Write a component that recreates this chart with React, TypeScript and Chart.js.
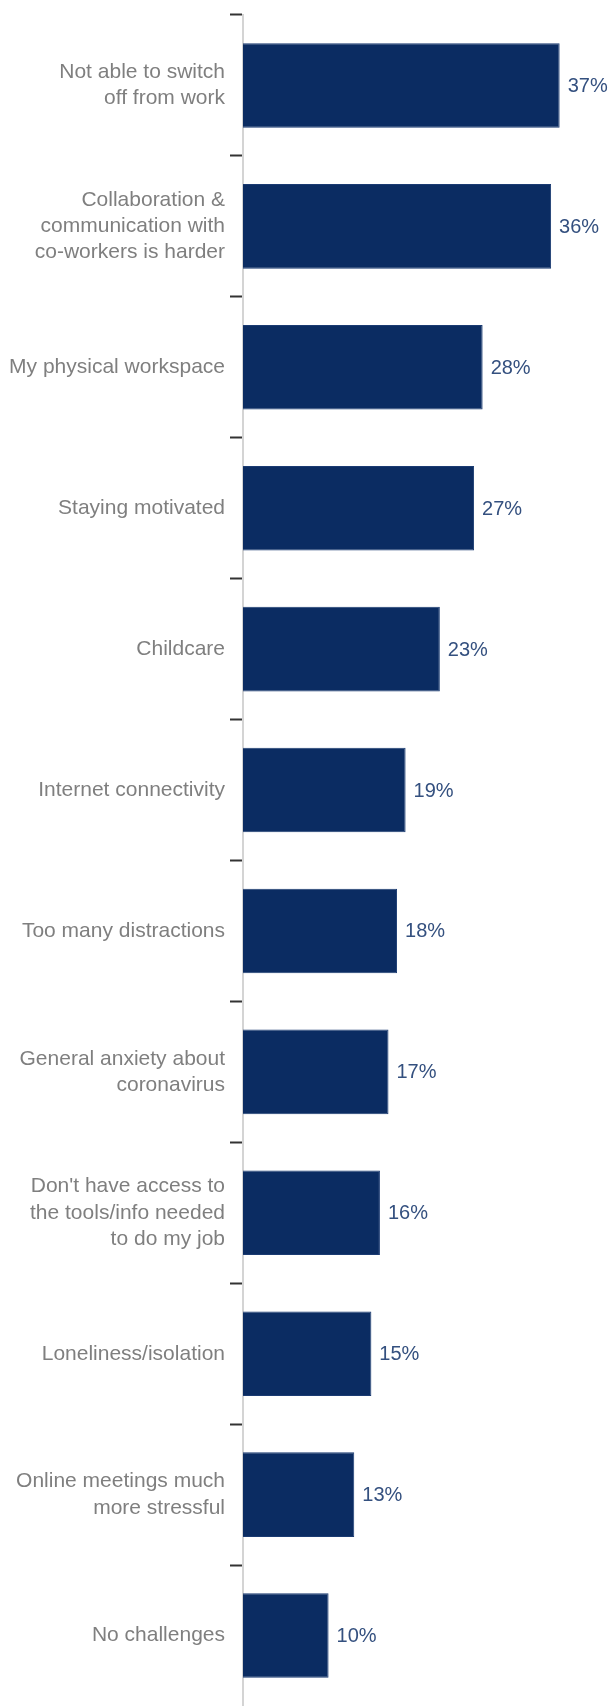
import React, { useEffect, useRef } from "react";
import { Chart, registerables } from "chart.js";

Chart.register(...registerables);

const categories: (string | string[])[] = [
  ["Not able to switch", "off from work"],
  ["Collaboration &", "communication with", "co-workers is harder"],
  "My physical workspace",
  "Staying motivated",
  "Childcare",
  "Internet connectivity",
  "Too many distractions",
  ["General anxiety about", "coronavirus"],
  ["Don't have access to", "the tools/info needed", "to do my job"],
  "Loneliness/isolation",
  ["Online meetings much", "more stressful"],
  "No challenges",
];

const values: number[] = [37, 36, 28, 27, 23, 19, 18, 17, 16, 15, 13, 10];

const valueLabels: string[] = values.map((v) => `${v}%`);

const BAR_COLOR = "#0b2c62";
const LABEL_COLOR = "#7f7f7f";
const VALUE_COLOR = "#34507f";
const FONT = "'Liberation Sans', Arial, sans-serif";

const valueLabelPlugin = {
  id: "valueLabels",
  afterDatasetsDraw(chart: any) {
    const ctx = chart.ctx;
    const meta = chart.getDatasetMeta(0);
    ctx.save();
    ctx.font = `20px ${FONT}`;
    ctx.fillStyle = VALUE_COLOR;
    ctx.textAlign = "left";
    ctx.textBaseline = "middle";
    meta.data.forEach((bar: any, i: number) => {
      ctx.fillText(valueLabels[i], bar.x + 8, bar.y + 1);
    });
    ctx.restore();
  },
};

export default function App() {
  const canvasRef = useRef<HTMLCanvasElement | null>(null);

  useEffect(() => {
    document.body.style.margin = "0";
    const canvas = canvasRef.current;
    if (!canvas) return;
    const chart = new Chart(canvas, {
      type: "bar",
      data: {
        labels: categories,
        datasets: [
          {
            data: values,
            backgroundColor: BAR_COLOR,
            borderColor: "#1b3b72",
            borderWidth: 1,
            barPercentage: 0.6,
            categoryPercentage: 1,
          },
        ],
      },
      options: {
        indexAxis: "y",
        responsive: false,
        animation: false,
        layout: { padding: { top: 15, right: 0, bottom: 0, left: 0 } },
        plugins: {
          legend: { display: false },
          tooltip: { enabled: false },
        },
        scales: {
          x: {
            display: false,
            min: 0,
            max: 43,
          },
          y: {
            afterFit(scale: any) {
              scale.width = 243;
              scale.paddingTop = 0;
              scale.paddingBottom = 0;
            },
            grid: {
              drawOnChartArea: false,
              drawTicks: true,
              tickLength: 13,
              tickColor: (c: any) => (c.type === "tick" ? "#333333" : "rgba(0,0,0,0)"),
              tickWidth: 2,
              offset: true,
            },
            border: {
              display: true,
              color: "#d4d4d4",
              width: 2,
            },
            ticks: {
              padding: 5,
              color: LABEL_COLOR,
              font: { family: FONT, size: 21, lineHeight: 1.25 },
              autoSkip: false,
            },
          },
        },
      },
      plugins: [valueLabelPlugin],
    });
    return () => chart.destroy();
  }, []);

  return (
    <div style={{ width: 611, height: 1706 }}>
      <canvas ref={canvasRef} width={611} height={1706} style={{ display: "block" }} />
    </div>
  );
}
